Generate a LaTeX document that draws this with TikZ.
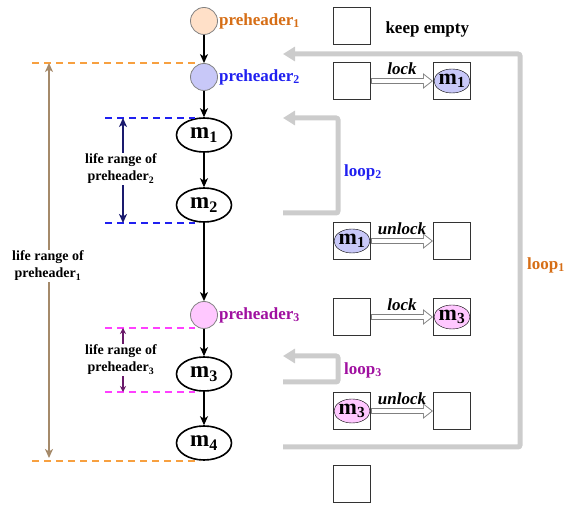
\documentclass[tikz,border=0pt]{standalone}
\usepackage{fontspec}
\setmainfont{Liberation Serif}
\usepackage{tikz}
\usetikzlibrary{arrows,arrows.meta,shapes}

\definecolor{peach}{RGB}{255,224,200}
\definecolor{lav}{RGB}{200,200,248}
\definecolor{pinkf}{RGB}{255,200,255}
\definecolor{orng}{RGB}{214,110,22}
\definecolor{odash}{RGB}{247,160,64}
\definecolor{blu}{RGB}{32,32,240}
\definecolor{purp}{RGB}{160,16,160}
\definecolor{mag}{RGB}{255,64,255}
\definecolor{navy}{RGB}{26,26,110}
\definecolor{plum}{RGB}{106,26,106}
\definecolor{brn}{RGB}{165,138,106}

\begin{document}
\begin{tikzpicture}[x=1pt,y=-1pt,>={Stealth[length=9pt,width=8pt,inset=2.5pt]},
                    node distance=58pt,font=\fontsize{17}{20}\selectfont\bfseries]
  \tikzstyle{ph}=[circle,draw=gray,thick,minimum size=27pt,inner sep=0pt]
  \tikzstyle{blk}=[ellipse,draw,line width=1.6pt,minimum width=55pt,minimum height=34pt,
                   inner sep=0pt,font=\fontsize{23}{23}\selectfont\bfseries]
  \tikzstyle{slot}=[draw=black!80,line width=1pt,minimum size=37pt,inner sep=0pt]
  \tikzstyle{tok}=[ellipse,draw,minimum width=36pt,minimum height=24pt,inner sep=0pt,
                   label={[font=\fontsize{22}{22}\selectfont\bfseries]center:#1}]
  \tikzstyle{flow}=[->,line width=1.3pt]
  \tikzstyle{loopline}=[draw=gray!40,line width=5pt,rounded corners=2pt]
  % hollow arrow = gray arrow with a white one laid inside it
  \tikzstyle{hollowout}=[draw=gray,line width=5.6pt,-{Triangle[length=10pt,width=15pt]}]
  \tikzstyle{hollowin}=[draw=white,line width=4pt,shorten >=1.5pt,shorten <=0.8pt,
                        -{Triangle[length=7.6pt,width=11.4pt]}]
  \tikzstyle{lifetxt}=[align=center,inner sep=1pt,font=\fontsize{14}{17}\selectfont\bfseries]

  \useasboundingbox (0,0) rectangle (566,505);

  % blocks of the nest
  \node[ph,fill=peach]                           (p1) at (204,21) {};
  \node[ph,fill=lav]   [below of=p1,node distance=56pt]  (p2) {};
  \node[blk]           [below of=p2]                     (m1) {m\textsubscript{1}};
  \node[blk]           [below of=m1,node distance=70pt]  (m2) {m\textsubscript{2}};
  \node[ph,fill=pinkf] [below of=m2,node distance=110pt] (p3) {};
  \node[blk]           [below of=p3,node distance=59pt]  (m3) {m\textsubscript{3}};
  \node[blk]           [below of=m3,node distance=69pt]  (m4) {m\textsubscript{4}};

  \node[anchor=west,inner sep=1pt,text=orng] (t1) at (p1.east) {preheader\textsubscript{1}};
  \node[anchor=west,inner sep=1pt,text=blu]  (t2) at (p2.east) {preheader\textsubscript{2}};
  \node[anchor=west,inner sep=1pt,text=purp] (t3) at (p3.east) {preheader\textsubscript{3}};

  \path (p1) edge[flow] (p2)
        (p2) edge[flow] (m1)
        (m1) edge[flow] (m2)
        (m2) edge[flow] (p3)
        (p3) edge[flow] (m3)
        (m3) edge[flow] (m4);

  % life ranges
  \coordinate (o1) at (32,63);   \coordinate (o2) at (32,461);
  \coordinate (b1) at (105,118); \coordinate (b2) at (105,223);
  \coordinate (g1) at (105,328); \coordinate (g2) at (105,392);
  \draw[odash,dashed,line width=1.5pt,dash pattern=on 7pt off 5pt] (o1) -- (o1 -| 200,0);
  \draw[odash,dashed,line width=1.5pt,dash pattern=on 7pt off 5pt] (o2) -- (o2 -| 200,0);
  \draw[blu,dashed,line width=1.5pt,dash pattern=on 7pt off 5pt] (b1) -- (b1 -| 195,0);
  \draw[blu,dashed,line width=1.5pt,dash pattern=on 7pt off 5pt] (b2) -- (b2 -| 195,0);
  \draw[mag,dashed,line width=1.5pt,dash pattern=on 7pt off 5pt] (g1) -- (g1 -| 195,0);
  \draw[mag,dashed,line width=1.5pt,dash pattern=on 7pt off 5pt] (g2) -- (g2 -| 195,0);

  \draw[brn,line width=1.5pt,<->] (49,63) -- (49,458);
  \node[lifetxt,fill=white] (r1) at (48,266) {life range of\\preheader\textsubscript{1}};
  \node[lifetxt] (r2) at (121,169) {life range of\\preheader\textsubscript{2}};
  \node[lifetxt] (r3) at (121,360) {life range of\\preheader\textsubscript{3}};
  \draw[navy,line width=1.5pt,->] ([xshift=2pt]r2.north) -- ([xshift=2pt]r2.north |- b1);
  \draw[navy,line width=1.5pt,->] ([xshift=2pt]r2.south) -- ([xshift=2pt]r2.south |- b2);
  \draw[plum,line width=1.5pt,->,>={Stealth[length=6pt,width=6pt]}]
       ([xshift=2pt]r3.north) -- ([xshift=2pt]r3.north |- g1);
  \draw[plum,line width=1.5pt,->,>={Stealth[length=6pt,width=6pt]}]
       ([xshift=2pt]r3.south) -- ([xshift=2pt]r3.south |- g2);

  % back edges
  \coordinate (e1) at (283,447); \coordinate (h1) at (283,54);
  \coordinate (e2) at (283,213); \coordinate (h2) at (283,118);
  \coordinate (e3) at (283,382); \coordinate (h3) at (283,356);
  \draw[loopline,-{Triangle[length=12pt,width=14pt]}] (e1) -- ++(237,0) |- (h1);
  \draw[loopline,-{Triangle[length=12pt,width=14pt]}] (e2) -- ++(55,0) |- (h2);
  \draw[loopline,-{Triangle[length=12pt,width=14pt]}] (e3) -- ++(55,0) |- (h3);
  \node[text=orng] (l1) at (546,265) {loop\textsubscript{1}};
  \node[text=blu]  (l2) at (363,172) {loop\textsubscript{2}};
  \node[text=purp] (l3) at (363,370) {loop\textsubscript{3}};

  % lock slots
  \node[slot] (s0)  at (352,26)  {};
  \node[anchor=west] (ke) at (382,29) {keep empty};
  \node[slot] (s1a) at (352,81)  {};
  \node[slot] (s1b) at (452,81)  {};
  \node[slot] (s2a) at (352,241) {};
  \node[slot] (s2b) at (452,241) {};
  \node[slot] (s3a) at (352,317) {};
  \node[slot] (s3b) at (452,317) {};
  \node[slot] (s4a) at (352,411) {};
  \node[slot] (s4b) at (452,411) {};
  \node[slot] (s5)  at (352,484) {};

  \node[tok=m\textsubscript{1},fill=lav]   at (s1b) {};
  \node[tok=m\textsubscript{1},fill=lav]   at (s2a) {};
  \node[tok=m\textsubscript{3},fill=pinkf] at (s3b) {};
  \node[tok=m\textsubscript{3},fill=pinkf] at (s4a) {};

  \foreach \a/\b/\w in {s1a/s1b/lock,s2a/s2b/unlock,s3a/s3b/lock,s4a/s4b/unlock} {
    \draw[hollowout] (\a) -- (\b);
    \draw[hollowin]  (\a) -- (\b) node[midway,above=0.5pt,text=black] {\itshape \w};
  }
\end{tikzpicture}
\end{document}
